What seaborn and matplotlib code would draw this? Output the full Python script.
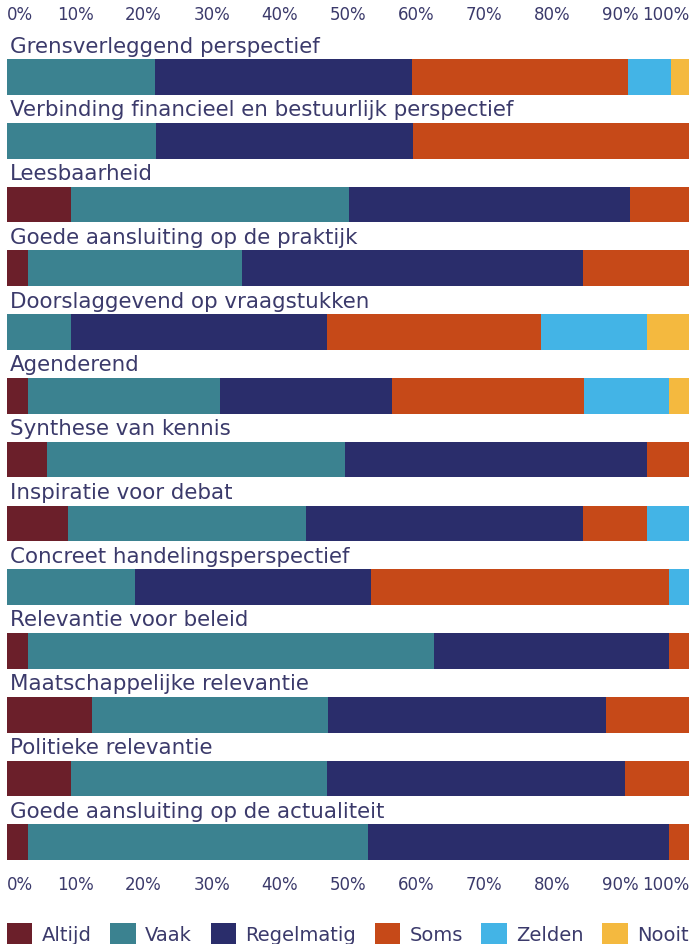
"""
Stacked horizontal bar chart: how often readers rate each aspect.

Output:
    out.png
"""

from __future__ import annotations

import matplotlib

matplotlib.use("Agg")

import matplotlib.pyplot as plt
import pandas as pd
import seaborn as sns


CATEGORIES = [
    "Grensverleggend perspectief",
    "Verbinding financieel en bestuurlijk perspectief",
    "Leesbaarheid",
    "Goede aansluiting op de praktijk",
    "Doorslaggevend op vraagstukken",
    "Agenderend",
    "Synthese van kennis",
    "Inspiratie voor debat",
    "Concreet handelingsperspectief",
    "Relevantie voor beleid",
    "Maatschappelijke relevantie",
    "Politieke relevantie",
    "Goede aansluiting op de actualiteit",
]

ALTIJD = [0, 0, 9.4, 3.1, 0, 3.1, 5.9, 8.9, 0, 3.1, 12.5, 9.4, 3.1]
VAAK = [21.7, 21.8, 40.8, 31.4, 9.4, 28.2, 43.7, 34.9, 18.8, 59.5, 34.5, 37.5, 49.9]
REGELMATIG = [37.7, 37.7, 41.1, 50.0, 37.5, 25.1, 44.3, 40.6, 34.5, 34.5, 40.8, 43.7, 44.1]
SOMS = [31.7, 40.5, 8.8, 15.5, 31.4, 28.2, 6.2, 9.4, 43.7, 2.9, 12.3, 9.4, 2.9]
ZELDEN = [6.3, 0, 0, 0, 15.5, 12.5, 0, 6.2, 3.1, 0, 0, 0, 0]
NOOIT = [2.6, 0, 0, 0, 6.2, 3.1, 0, 0, 0, 0, 0, 0, 0]

SERIES = ["Altijd", "Vaak", "Regelmatig", "Soms", "Zelden", "Nooit"]
TICKS = [0, 10, 20, 30, 40, 50, 60, 70, 80, 90, 100]

PALETTE = {
    "Altijd": "#6b1f2a",
    "Vaak": "#3b8290",
    "Regelmatig": "#2a2d6b",
    "Soms": "#c64918",
    "Zelden": "#43b4e6",
    "Nooit": "#f4b93f",
}
TEXT_COLOR = "#3b3a6b"


def build_frame() -> pd.DataFrame:
    """Wide table of percentages plus running totals per answer."""
    frame = pd.DataFrame(
        {
            "category": CATEGORIES,
            "Altijd": ALTIJD,
            "Vaak": VAAK,
            "Regelmatig": REGELMATIG,
            "Soms": SOMS,
            "Zelden": ZELDEN,
            "Nooit": NOOIT,
        }
    )
    cumulative = frame[SERIES].cumsum(axis=1)
    cumulative.columns = [f"cum_{name}" for name in SERIES]
    return pd.concat([frame, cumulative], axis=1)


def main() -> None:
    sns.set_theme(style="white")
    plt.rcParams["font.family"] = ["DejaVu Sans"]

    frame = build_frame()

    fig = plt.figure(figsize=(6.89, 9.45), dpi=100)
    ax = fig.add_axes([7 / 689, 1 - 870 / 945, 1 - 7 / 689, 840 / 945])

    # draw the running totals from the longest to the shortest so they stack
    for name in reversed(SERIES):
        sns.barplot(
            data=frame,
            x=f"cum_{name}",
            y="category",
            order=CATEGORIES,
            color=PALETTE[name],
            orient="h",
            width=0.56,
            linewidth=0,
            saturation=1,
            label=name,
            ax=ax,
        )

    ax.set_xlim(0, 100)
    ax.set_ylim(12.42, -0.753)
    ax.set_xlabel("")
    ax.set_ylabel("")
    ax.set_yticks([])
    ax.set_xticks(TICKS)
    ax.set_xticklabels([f"{tick}%" for tick in TICKS])
    ax.tick_params(
        axis="x",
        length=0,
        pad=4,
        labelsize=12,
        labelcolor=TEXT_COLOR,
        top=True,
        labeltop=True,
        bottom=True,
        labelbottom=True,
    )
    for label in ax.get_xticklabels(which="both"):
        if label.get_text() == "0%":
            label.set_horizontalalignment("left")
        elif label.get_text() == "100%":
            label.set_horizontalalignment("right")
    sns.despine(ax=ax, left=True, bottom=True, top=True, right=True)

    for index, category in enumerate(CATEGORIES):
        ax.text(
            0.45,
            index - 0.40,
            category,
            ha="left",
            va="baseline",
            fontsize=15.4,
            color=TEXT_COLOR,
        )

    handles, labels = ax.get_legend_handles_labels()
    lookup = dict(zip(labels, handles))
    if ax.legend_:
        ax.legend_.remove()
    fig.legend(
        [lookup[name] for name in SERIES],
        SERIES,
        loc="lower left",
        bbox_to_anchor=(7 / 689, 0.0, 1 - 7 / 689, 0.035),
        mode="expand",
        ncol=6,
        frameon=False,
        fontsize=14,
        labelcolor=TEXT_COLOR,
        handlelength=1.3,
        handleheight=1.3,
        handletextpad=0.5,
        borderaxespad=0,
        borderpad=0,
    )

    fig.savefig("out.png", dpi=100)
    plt.close(fig)


if __name__ == "__main__":
    main()
